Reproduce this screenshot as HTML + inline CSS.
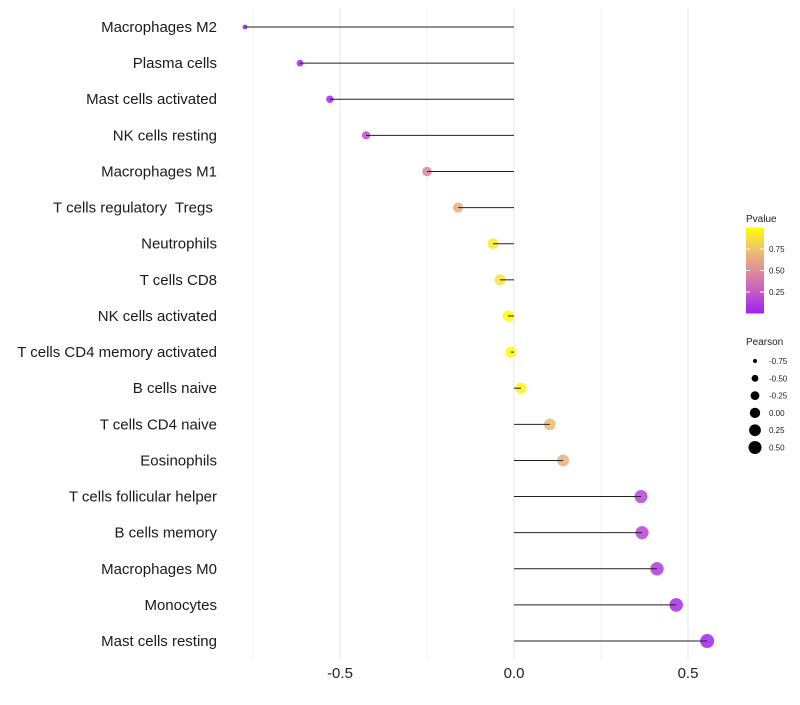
<!DOCTYPE html>
<html><head><meta charset="utf-8"><style>
body{margin:0;background:#fff;font-family:"Liberation Sans",Arial,sans-serif}
text{white-space:pre}
</style></head><body>
<svg id="chart" width="800" height="700" xmlns="http://www.w3.org/2000/svg"></svg>
<script>
const categories=["Macrophages M2","Plasma cells","Mast cells activated","NK cells resting","Macrophages M1","T cells regulatory  Tregs ","Neutrophils","T cells CD8","NK cells activated","T cells CD4 memory activated","B cells naive","T cells CD4 naive","Eosinophils","T cells follicular helper","B cells memory","Macrophages M0","Monocytes","Mast cells resting"];
const pearson=[-0.773,-0.615,-0.529,-0.425,-0.25,-0.161,-0.06,-0.04,-0.017,-0.009,0.02,0.103,0.141,0.365,0.368,0.411,0.466,0.555];
const pvalues=[0.0,0.01,0.03,0.18,0.45,0.65,0.9,0.88,1.0,0.98,0.95,0.7,0.66,0.15,0.15,0.1,0.05,0.02];
const xTicks=[-0.5,0.0,0.5];
const xTickLabels=["-0.5","0.0","0.5"];
const xMinor=[-0.75,-0.25,0.25];
const pTicks=[0.25,0.5,0.75];
const sizeLegend=[-0.75,-0.5,-0.25,0.0,0.25,0.5];
const sizeLegendLabels=["-0.75","-0.50","-0.25","0.00","0.25","0.50"];

const svg=document.getElementById('chart');
const NS="http://www.w3.org/2000/svg";
function mk(t,a,p){const e=document.createElementNS(NS,t);for(const k in a)e.setAttribute(k,a[k]);(p||svg).appendChild(e);return e;}
const x=v=>514+v*348;
const y=i=>27+i*36.12;
const rad=v=>Math.sqrt(Math.max(1.7,11+(v+0.615)*32.5));
const legRad=v=>Math.sqrt(4+(v+0.75)/1.25*38);
const stops=[[0,[160,32,240]],[0.25,[196,91,200]],[0.5,[222,142,150]],[0.75,[240,194,110]],[1,[255,255,0]]];
function col(p){for(let i=1;i<stops.length;i++){if(p<=stops[i][0]){const a=stops[i-1],b=stops[i],t=(p-a[0])/(b[0]-a[0]);const c=a[1].map((v,j)=>Math.round(v+(b[1][j]-v)*t));return `rgb(${c})`;}}return 'rgb(255,255,0)';}

xMinor.forEach(v=>{const l=mk('line',{x1:x(v),x2:x(v),y1:8,y2:660,stroke:'#f2f2f2','stroke-width':1});

});
xTicks.forEach((v,i)=>{const l=mk('line',{x1:x(v),x2:x(v),y1:8,y2:660,stroke:'#ebebeb','stroke-width':1.2});


const t=mk('text',{x:x(v),y:678,'text-anchor':'middle','font-size':15,fill:'#222'});t.textContent=xTickLabels[i];

});

categories.forEach((c,i)=>{
 const t=mk('text',{x:217,y:y(i)+5,'text-anchor':'end','font-size':15,fill:'#1a1a1a'});t.textContent=c;
 
 
 const p=mk('circle',{cx:x(pearson[i]),cy:y(i),r:rad(pearson[i]),fill:col(pvalues[i]),'fill-opacity':0.85});
 
 
 const l=mk('line',{x1:x(0),x2:x(pearson[i]),y1:y(i),y2:y(i),stroke:'#222','stroke-width':1});
 
 
});

const g=mk('g',{});
const tt=mk('text',{x:746,y:222,'font-size':10,fill:'#222'},g);tt.textContent='Pvalue';
const defs=mk('defs',{});const lg=mk('linearGradient',{id:'pg',x1:0,y1:1,x2:0,y2:0},defs);
stops.forEach(s=>mk('stop',{offset:s[0],'stop-color':col(s[0])},lg));
mk('rect',{x:746,y:227.5,width:18,height:86,fill:'url(#pg)'},g);
const py=p=>313.5-p*86;
pTicks.forEach(p=>{mk('line',{x1:746,x2:750,y1:py(p),y2:py(p),stroke:'#fff'},g);mk('line',{x1:760,x2:764,y1:py(p),y2:py(p),stroke:'#fff'},g);
 const t=mk('text',{x:769,y:py(p)+3,'font-size':8,fill:'#222'},g);t.textContent=p.toFixed(2);});

const g2=mk('g',{});
const st=mk('text',{x:746,y:345,'font-size':10,fill:'#222'},g2);st.textContent='Pearson';
sizeLegend.forEach((v,i)=>{const cy=361+i*17.3;mk('circle',{cx:755,cy:cy,r:legRad(v),fill:'#000'},g2);
 const t=mk('text',{x:769,y:cy+3,'font-size':8,fill:'#222'},g2);t.textContent=sizeLegendLabels[i];});
</script>
</body></html>
